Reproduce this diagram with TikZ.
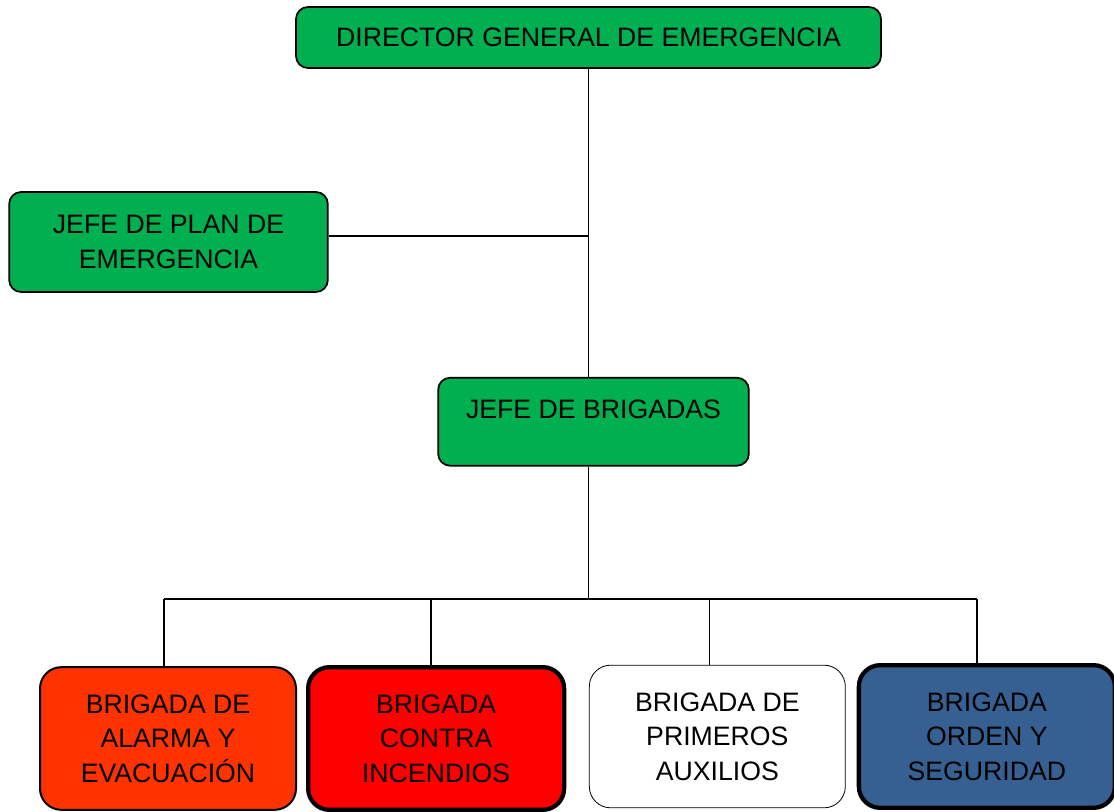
\documentclass[tikz,border=0pt]{standalone}
\usepackage{fontspec}
\setmainfont{Liberation Sans}
\usetikzlibrary{positioning}
\definecolor{verde}{RGB}{0,176,80}
\definecolor{naranja}{RGB}{255,51,0}
\definecolor{rojo}{RGB}{255,0,0}
\definecolor{azul}{RGB}{55,96,146}
\tikzstyle{jefe}    = [rectangle, rounded corners=9pt, draw=black, line width=1.3pt,
                       fill=verde, align=center, font=\fontsize{20}{26}\selectfont]
\tikzstyle{brigada} = [rectangle, rounded corners=16pt, draw=black, line width=1.5pt,
                       minimum width=192pt, minimum height=107pt, align=center,
                       font=\fontsize{20}{26}\selectfont]
\tikzstyle{linea}   = [line width=1pt]

\begin{document}
\begin{tikzpicture}[x=0.75pt, y=-0.75pt]
  \useasboundingbox (0,0) rectangle (1114,812);
  \node (director) [jefe, minimum width=438.75pt, minimum height=45.75pt] at (588.5,37.5) {DIRECTOR GENERAL DE EMERGENCIA};
  \node (jefeplan) [jefe, minimum width=239pt, minimum height=75pt] at (168.5,242) {JEFE DE PLAN DE\\EMERGENCIA};
  \node (jefebrig) [jefe, minimum width=233pt, minimum height=66pt, text height=14.3pt, text depth=19.5pt,
                    below=231pt of director, xshift=3.75pt] {JEFE DE BRIGADAS};

  \node (alarma)    [brigada, fill=naranja] at (168,738.5) {BRIGADA DE\\ALARMA Y\\EVACUACIÓN};
  \node (incendios) [brigada, fill=rojo, line width=3.2pt, right=6.75pt of alarma] {BRIGADA\\CONTRA\\INCENDIOS};
  \node (auxilios)  [brigada, fill=white, line width=0.6pt, right=17pt of incendios, yshift=1.5pt] {BRIGADA DE\\PRIMEROS\\AUXILIOS};
  \node (orden)     [brigada, fill=azul, line width=3.2pt, right=8.25pt of auxilios] {BRIGADA\\ORDEN Y\\SEGURIDAD};

  \coordinate (bus) at (588,599);
  \draw[linea] (director.south) -- (director.south |- jefebrig.north);
  \draw[linea] ([yshift=4.5pt]jefeplan.east) -- ([yshift=4.5pt]jefeplan.east -| director.south);
  \draw[linea] (director.south |- jefebrig.south) -- (director.south |- bus);
  \draw[linea] ([xshift=-3pt]alarma.north |- bus) -- ([xshift=-7.5pt]orden.north |- bus);
  \foreach \b/\dx in {alarma/-3pt, incendios/-3.75pt, auxilios/-6pt, orden/-7.5pt}
    \draw[linea] ([xshift=\dx]\b.north) -- ([xshift=\dx]\b.north |- bus);
\end{tikzpicture}
\end{document}
